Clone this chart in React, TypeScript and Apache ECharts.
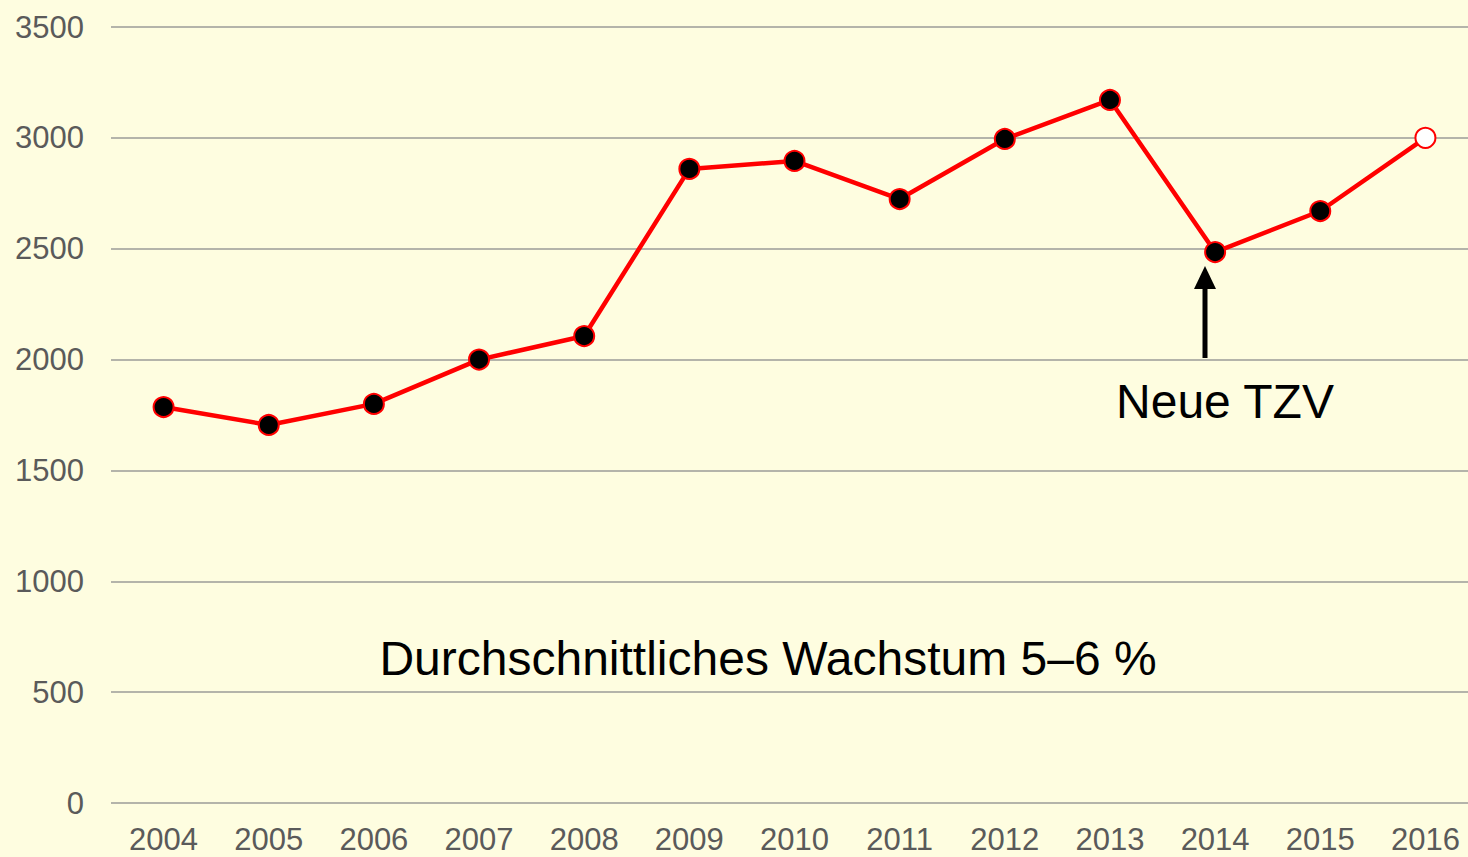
import React, { useEffect, useRef } from "react";
import * as echarts from "echarts";

const years = ["2004", "2005", "2006", "2007", "2008", "2009", "2010", "2011", "2012", "2013", "2014", "2015", "2016"];
const values = [1786, 1705, 1800, 2000, 2106, 2860, 2896, 2724, 2995, 3171, 2485, 2670, 3000];
const yTicks = { min: 0, max: 3500, interval: 500 };
const noteMain = "Durchschnittliches Wachstum 5–6 %";
const noteArrow = "Neue TZV";

export default function App() {
  const ref = useRef<HTMLDivElement>(null);
  useEffect(() => {
    const chart = echarts.init(ref.current!, null, { renderer: "svg" });
    const font = "Liberation Sans, Arial, sans-serif";
    chart.setOption({
      animation: false,
      backgroundColor: "#fefde0",
      grid: { left: 111, right: -10, top: 27, bottom: 54, outerBoundsMode: "none", containLabel: false },
      xAxis: {
        type: "category",
        data: years,
        boundaryGap: true,
        axisLine: { show: false },
        axisTick: { show: false },
        axisLabel: { color: "#5a5a5a", fontSize: 31, fontFamily: font, margin: 21 },
      },
      yAxis: {
        type: "value",
        min: yTicks.min,
        max: yTicks.max,
        interval: yTicks.interval,
        axisLine: { show: false },
        axisTick: { show: false },
        axisLabel: { color: "#5a5a5a", fontSize: 31, fontFamily: font, margin: 27, formatter: (v: number) => String(v) },
        splitLine: { lineStyle: { color: "#b4b4aa", width: 2 } },
      },
      series: [
        {
          type: "line",
          data: values.map((v, i) =>
            i === values.length - 1
              ? { value: v, itemStyle: { color: "#ffffff", borderColor: "#ff0000", borderWidth: 2 } }
              : v
          ),
          symbol: "circle",
          symbolSize: 20,
          lineStyle: { color: "#ff0000", width: 4.5 },
          itemStyle: { color: "#000000", borderColor: "#ff0000", borderWidth: 2 },
          z: 3,
        },
      ],
      graphic: [
        {
          type: "line",
          shape: { x1: 1205, y1: 358, x2: 1205, y2: 284 },
          style: { stroke: "#000", lineWidth: 5 },
        },
        {
          type: "polygon",
          shape: { points: [[1205, 266], [1194, 289], [1216, 289]] },
          style: { fill: "#000" },
        },
        {
          type: "text",
          x: 1225,
          y: 401,
          style: { text: noteArrow, fill: "#000", fontSize: 48, fontFamily: font, align: "center", verticalAlign: "middle" },
        },
        {
          type: "text",
          x: 768,
          y: 658,
          style: { text: noteMain, fill: "#000", fontSize: 48, fontFamily: font, align: "center", verticalAlign: "middle" },
        },
      ],
    });
    return () => chart.dispose();
  }, []);
  return <div ref={ref} style={{ width: 1468, height: 857, position: "fixed", left: 0, top: 0 }} />;
}
